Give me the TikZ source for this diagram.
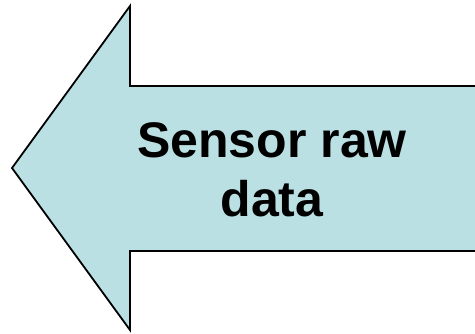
\documentclass[tikz,border=0pt]{standalone}
\usepackage{fontspec}
\setmainfont{Liberation Sans}
\usepackage{xcolor}
\definecolor{arrowfill}{RGB}{187,224,227}

\begin{document}
\begin{tikzpicture}[x=1pt,y=-1pt]
			\useasboundingbox(0,0)rectangle(475,333);
			\draw[line width=1.8pt, line join=miter, fill=arrowfill](12,168)--(130,6)--(130,86)--(477,86)--(477,251)--(130,251)--(130,330)--cycle;
			\node(label) at(272,170)[align=center, font=\bfseries\fontsize{50}{59}\selectfont]{Sensor raw\\data};
		\end{tikzpicture}
\end{document}
